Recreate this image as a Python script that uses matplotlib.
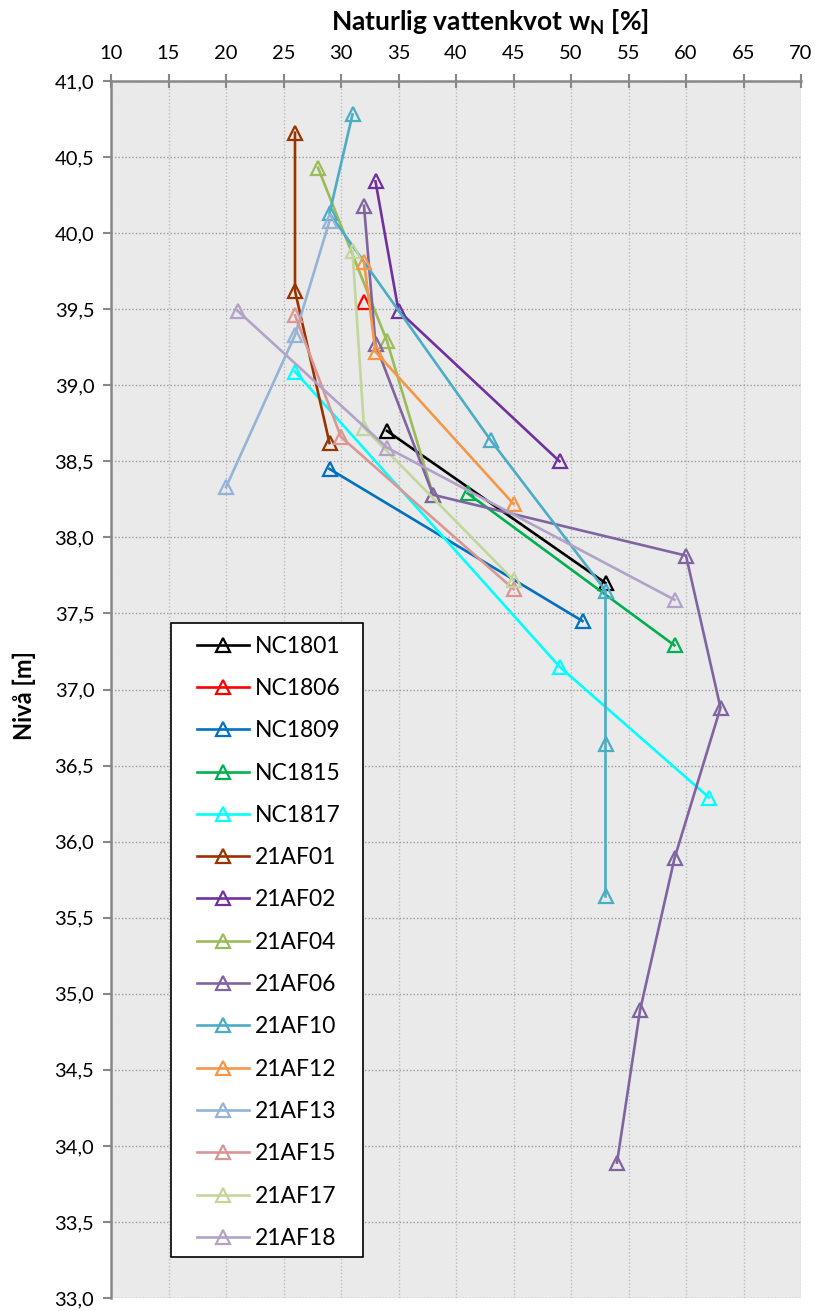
import matplotlib
matplotlib.use("Agg")
import matplotlib.pyplot as plt
from matplotlib.ticker import MultipleLocator, FuncFormatter
from matplotlib.patches import Rectangle

plt.rcParams['font.family'] = ['Lato', 'DejaVu Sans']

names = ["NC1801", "NC1806", "NC1809", "NC1815", "NC1817", "21AF01", "21AF02",
         "21AF04", "21AF06", "21AF10", "21AF12", "21AF13", "21AF15", "21AF17", "21AF18"]
colors = ["#000000", "#FF0000", "#0070C0", "#00B050", "#00FFFF", "#993300", "#7030A0",
          "#9BBB59", "#8064A2", "#4BACC6", "#F79646", "#95B3D7", "#D99694", "#C3D69B", "#B3A2C7"]

wn_NC1801 = [34, 53]
lvl_NC1801 = [38.70, 37.70]
wn_NC1806 = [32]
lvl_NC1806 = [39.55]
wn_NC1809 = [29, 51]
lvl_NC1809 = [38.45, 37.45]
wn_NC1815 = [41, 59]
lvl_NC1815 = [38.29, 37.29]
wn_NC1817 = [26, 49, 62]
lvl_NC1817 = [39.09, 37.15, 36.29]
wn_21AF01 = [26, 26, 29]
lvl_21AF01 = [40.66, 39.62, 38.62]
wn_21AF02 = [33, 35, 49]
lvl_21AF02 = [40.34, 39.49, 38.50]
wn_21AF04 = [28, 34, 38]
lvl_21AF04 = [40.43, 39.29, 38.28]
wn_21AF06 = [32, 33, 38, 60, 63, 59, 56, 54]
lvl_21AF06 = [40.18, 39.27, 38.28, 37.88, 36.88, 35.89, 34.89, 33.89]
wn_21AF10 = [31, 29, 43, 53, 53, 53]
lvl_21AF10 = [40.78, 40.13, 38.64, 37.65, 36.64, 35.64]
wn_21AF12 = [32, 33, 45]
lvl_21AF12 = [39.81, 39.22, 38.22]
wn_21AF13 = [29, 26, 20]
lvl_21AF13 = [40.08, 39.33, 38.33]
wn_21AF15 = [26, 30, 45]
lvl_21AF15 = [39.46, 38.66, 37.66]
wn_21AF17 = [31, 32, 45]
lvl_21AF17 = [39.88, 38.72, 37.72]
wn_21AF18 = [21, 34, 59]
lvl_21AF18 = [39.49, 38.59, 37.59]

series_x = [wn_NC1801, wn_NC1806, wn_NC1809, wn_NC1815, wn_NC1817, wn_21AF01, wn_21AF02,
            wn_21AF04, wn_21AF06, wn_21AF10, wn_21AF12, wn_21AF13, wn_21AF15, wn_21AF17, wn_21AF18]
series_y = [lvl_NC1801, lvl_NC1806, lvl_NC1809, lvl_NC1815, lvl_NC1817, lvl_21AF01, lvl_21AF02,
            lvl_21AF04, lvl_21AF06, lvl_21AF10, lvl_21AF12, lvl_21AF13, lvl_21AF15, lvl_21AF17, lvl_21AF18]

W, H = 818, 1311
AX_L, AX_R, AX_T, AX_B = 111, 801, 81, 1298

fig = plt.figure(figsize=(W/100, H/100), dpi=100)
ax = fig.add_axes([AX_L/W, 1 - AX_B/H, (AX_R - AX_L)/W, (AX_B - AX_T)/H])
ax.set_facecolor("#EAEAEA")

for nm, c, xs, ys in zip(names, colors, series_x, series_y):
    ax.plot(xs, ys, color=c, lw=1.9, marker='^', markersize=10, markerfacecolor='none',
            markeredgecolor=c, markeredgewidth=1.6, label=nm)

ax.set_xlim(10, 70)
ax.set_ylim(33, 41)
ax.xaxis.set_major_locator(MultipleLocator(5))
ax.yaxis.set_major_locator(MultipleLocator(0.5))
ax.xaxis.tick_top()
ax.yaxis.set_major_formatter(FuncFormatter(lambda v, p: f"{v:.1f}".replace('.', ',')))

ax.grid(axis='y', color='#999999', linestyle=(0, (1, 1.5)), lw=1.0)
ax.grid(axis='x', color='#BBBBBB', linestyle=(0, (1, 1.5)), lw=1.0)
ax.set_axisbelow(True)

for s in ['right', 'bottom']:
    ax.spines[s].set_visible(False)
for s in ['left', 'top']:
    ax.spines[s].set_color('#888888')
    ax.spines[s].set_linewidth(1.8)

ax.tick_params(axis='x', which='major', direction='inout', length=10, width=1.5, color='#888888',
               labelsize=14.5, pad=9)
ax.tick_params(axis='y', which='major', direction='out', length=6, width=1.5, color='#888888',
               labelsize=14.5, pad=6)

fig.text(490/W, 1 - 22/H, "Naturlig vattenkvot w$_\\mathregular{N}$ [%]", fontsize=19,
         fontweight='bold', ha='center', va='center')
ax.set_ylabel("Nivå [m]", fontsize=17, fontweight='bold')
ax.yaxis.set_label_coords((36 - AX_L)/(AX_R - AX_L), (AX_B - 696)/(AX_B - AX_T))

def to_ax(px, py):
    return ((px - AX_L)/(AX_R - AX_L), (AX_B - py)/(AX_B - AX_T))

# legend frame
bx0, by0 = to_ax(171, 1257)
bx1, by1 = to_ax(363, 623)
ax.add_patch(Rectangle((bx0, by0), bx1 - bx0, by1 - by0, transform=ax.transAxes,
                       facecolor='white', edgecolor='black', lw=1.2, zorder=4.5, clip_on=False))

lx, ly = to_ax(184, 623)
leg = ax.legend(loc='upper left', bbox_to_anchor=(lx, ly),
                fontsize=16.5, frameon=False,
                handlelength=2.3, labelspacing=0.93, borderpad=0.55, handletextpad=0.25,
                borderaxespad=0)
leg.set_zorder(5)

fig.savefig("out.png", dpi=100, facecolor='white')
